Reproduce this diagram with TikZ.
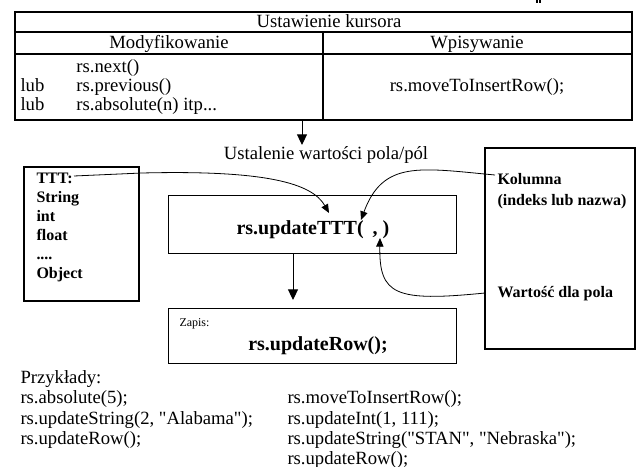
\documentclass[tikz,border=0pt]{standalone}
\usepackage{fontspec}
\setmainfont{Liberation Serif}
\newfontfamily\plainfont{Liberation Serif}
\usetikzlibrary{arrows.meta}
\begin{document}
\begin{tikzpicture}[x=0.75pt,y=-0.75pt,
  line width=0.75pt,
  box/.style={draw,line width=0.9pt},
  reg/.style={font=\fontsize{14}{12.75}\selectfont,inner sep=0pt,anchor=base west},
  lbl/.style={font=\fontsize{12}{15}\selectfont\bfseries,inner sep=0pt,anchor=base west},
  lst/.style={font=\fontsize{12}{14}\selectfont\bfseries,inner sep=0pt,anchor=base west},
  big/.style={font=\fontsize{15}{17}\selectfont\bfseries,inner sep=0pt},
  bigtip/.style={-{Triangle[width=7.5pt,length=8pt]}},
  smtip/.style={-{Triangle[width=5.5pt,length=6.5pt]},line width=0.6pt}]
\useasboundingbox (0,0) rectangle (644,467);
% tiny marks at top
\fill (536,0) rectangle (537.5,3);
\fill (539,0) rectangle (540.5,3);
% table
\draw[box] (15,12) rectangle (632,120);
\draw[box] (15,32) -- (632,32);
\draw[box] (15,54) -- (632,54);
\draw[box] (323,32) -- (323,120);
\node[reg,anchor=base] (ust) at (329,28) {Ustawienie kursora};
\node[reg,anchor=base] (mod) at (169,49) {Modyfikowanie};
\node[reg,anchor=base] (wpi) at (477,49) {Wpisywanie};
\node[reg] (n1) at (76,73) {rs.next()};
\node[reg] (l2) at (20,92) {lub};
\node[reg] (n2) at (76,92) {rs.previous()};
\node[reg] (l3) at (20,111) {lub};
\node[reg] (n3) at (76,111) {rs.absolute(n) itp...};
\node[reg,anchor=base] (mti) at (477,92) {rs.moveToInsertRow();};
\coordinate (tabbot) at (302,120);
\coordinate (ustop) at (302,145);
\draw[bigtip] (tabbot) -- (ustop);
\node[reg,anchor=base] (ustal) at (326,160) {Ustalenie wartości pola/pól};
% TTT box
\draw[box] (24,167) rectangle (139,301);
\node[lst] (t0) at (36,184) {TTT:};
\node[lst] (t1) at (36,203) {String};
\node[lst] (t2) at (36,222) {int};
\node[lst] (t3) at (36,241) {float};
\node[lst] (t4) at (36,260) {....};
\node[lst] (t5) at (36,279) {Object};
% middle box
\node[box,minimum width=288*0.75pt,minimum height=58*0.75pt,anchor=north west,inner sep=0pt] (upd) at (168,195) {};
\node[big,anchor=base west] (updtxt) at (236,235) {rs.updateTTT(\hspace{0.45em}, )};
% zapis box
\node[box,minimum width=288*0.75pt,minimum height=55*0.75pt,anchor=north west,inner sep=0pt] (zap) at (168,308) {};
\node[font=\fontsize{9}{10}\selectfont,inner sep=0pt,anchor=base west] (zapis) at (179,327) {Zapis:};
\node[big,anchor=base] (row) at (318,350) {rs.updateRow();};
\draw[bigtip] (upd.south -| 293,0) -- (293,300);
% right box
\draw[box] (485,148) rectangle (635,349);
\node[lbl] (kol) at (497,185) {Kolumna};
\node[lbl] (kol2) at (497,206) {(indeks lub nazwa)};
\node[lbl] (war) at (497,297) {Wartość dla pola};
% curved arrows
\coordinate (tttend) at (74,176);
\coordinate (tttmid) at (142,173);
\coordinate (tip1) at (329,213);
\draw[smtip] (tttend) -- (tttmid) .. controls (265,170) and (312,183) .. (tip1);
\coordinate (kolst) at (495,175);
\coordinate (tip2) at (361,220);
\draw[smtip] (kolst) .. controls (420,168) and (383,160) .. (tip2);
\coordinate (warst) at (485,293);
\coordinate (tip3) at (380,238);
\draw[smtip] (warst) .. controls (395,302) and (379,295) .. (tip3);
% examples
\node[reg] (prz) at (20,383) {Przykłady:};
\node[reg] (e1) at (20,403.5) {rs.absolute(5);};
\node[reg,font=\fontsize{14}{15}\plainfont] (e2) at (20,424) {rs.updateString(2, "Alabama");};
\node[reg] (e3) at (20,444.5) {rs.updateRow();};
\node[reg] (r1) at (287,403.5) {rs.moveToInsertRow();};
\node[reg] (r2) at (287,424) {rs.updateInt(1, 111);};
\node[reg,font=\fontsize{14}{15}\plainfont] (r3) at (287,444.5) {rs.updateString("STAN", "Nebraska");};
\node[reg] (r4) at (287,464.5) {rs.updateRow();};
\end{tikzpicture}
\end{document}
